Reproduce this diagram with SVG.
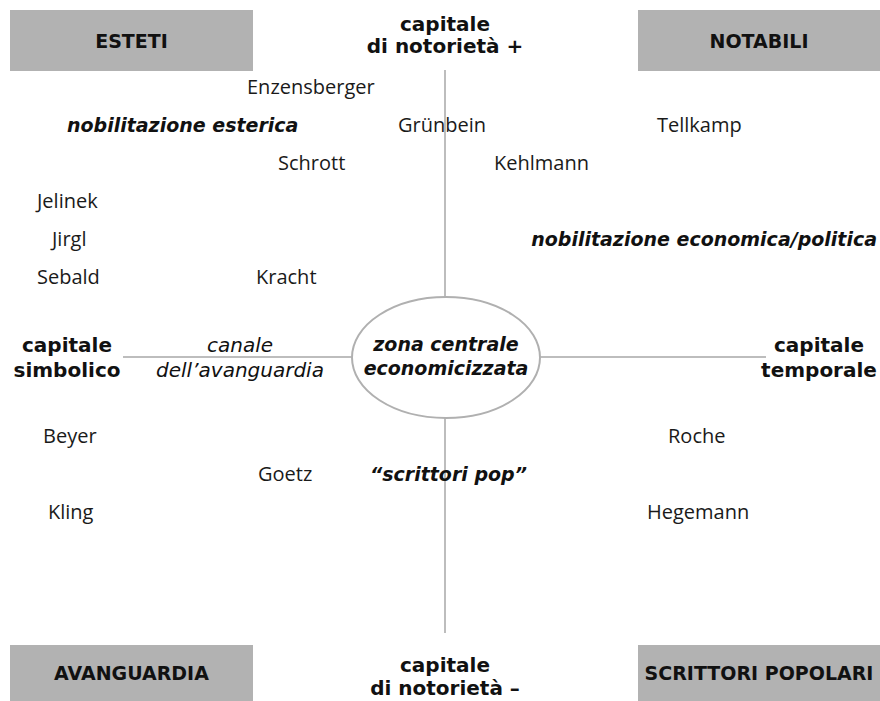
<svg xmlns="http://www.w3.org/2000/svg" width="880" height="701" viewBox="0 0 880 701">
<style>
.box{fill:#b2b2b2}
.bl{font-family:"DejaVu Sans",sans-serif;font-weight:bold;font-size:19px;fill:#111;text-anchor:middle}
.ax{font-family:"DejaVu Sans",sans-serif;font-weight:bold;font-size:20px;fill:#111;text-anchor:middle}
.bi{font-family:"DejaVu Sans",sans-serif;font-weight:bold;font-style:oblique;font-size:19px;fill:#111}
.it{font-family:"DejaVu Sans",sans-serif;font-style:oblique;font-size:20px;fill:#111;text-anchor:middle}
.nm{font-family:"Open Sans",sans-serif;font-size:20px;fill:#1a1a1a}
.ln{stroke:#bdbdbd;stroke-width:2;fill:none}
</style>
<rect width="880" height="701" fill="#fff"/>
<g id="connectors">
<line class="ln" x1="445" y1="70" x2="445" y2="298"/>
<line class="ln" x1="445" y1="418" x2="445" y2="633"/>
<line class="ln" x1="123" y1="357" x2="352" y2="357"/>
<line class="ln" x1="540" y1="357" x2="766" y2="357"/>
</g>
<g id="esteti"><rect class="box" x="10" y="10" width="243" height="61"/><text class="bl" x="131.5" y="47.5">ESTETI</text></g>
<g id="notabili"><rect class="box" x="638" y="10" width="242" height="61"/><text class="bl" x="759" y="47.5">NOTABILI</text></g>
<g id="avanguardia"><rect class="box" x="10" y="645" width="243" height="56"/><text class="bl" x="131.5" y="680">AVANGUARDIA</text></g>
<g id="scrittori-popolari"><rect class="box" x="638" y="645" width="242" height="56"/><text class="bl" x="759" y="680">SCRITTORI POPOLARI</text></g>
<g id="notorieta-plus"><text class="ax" x="445" y="31">capitale</text><text class="ax" x="445" y="53">di notorietà +</text></g>
<g id="notorieta-minus"><text class="ax" x="445" y="672">capitale</text><text class="ax" x="445" y="695">di notorietà –</text></g>
<g id="simbolico"><text class="ax" x="67" y="352">capitale</text><text class="ax" x="67" y="377">simbolico</text></g>
<g id="temporale"><text class="ax" x="819" y="352">capitale</text><text class="ax" x="819" y="377">temporale</text></g>
<g id="canale"><text class="it" x="240" y="352">canale</text><text class="it" x="240" y="377">dell’avanguardia</text></g>
<g id="zona-centrale"><ellipse cx="446" cy="357.5" rx="94" ry="60.5" fill="#fff" stroke="#b0b0b0" stroke-width="2"/><text class="bi" x="446" y="351" text-anchor="middle">zona centrale</text><text class="bi" x="446" y="375" text-anchor="middle">economicizzata</text></g>
<g id="labels">
<text class="bi" x="67" y="132">nobilitazione esterica</text>
<text class="bi" x="877" y="246" text-anchor="end">nobilitazione economica/politica</text>
<text class="bi" x="370" y="481">“scrittori pop”</text>
</g>
<g id="names">
<text class="nm" x="247" y="94">Enzensberger</text>
<text class="nm" x="398" y="132">Grünbein</text>
<text class="nm" x="657" y="132">Tellkamp</text>
<text class="nm" x="278" y="170">Schrott</text>
<text class="nm" x="494" y="170">Kehlmann</text>
<text class="nm" x="37" y="208">Jelinek</text>
<text class="nm" x="52" y="246">Jirgl</text>
<text class="nm" x="37" y="284">Sebald</text>
<text class="nm" x="256" y="284">Kracht</text>
<text class="nm" x="43" y="443">Beyer</text>
<text class="nm" x="668" y="443">Roche</text>
<text class="nm" x="258" y="481">Goetz</text>
<text class="nm" x="48" y="519">Kling</text>
<text class="nm" x="647" y="519">Hegemann</text>
</g>
</svg>
